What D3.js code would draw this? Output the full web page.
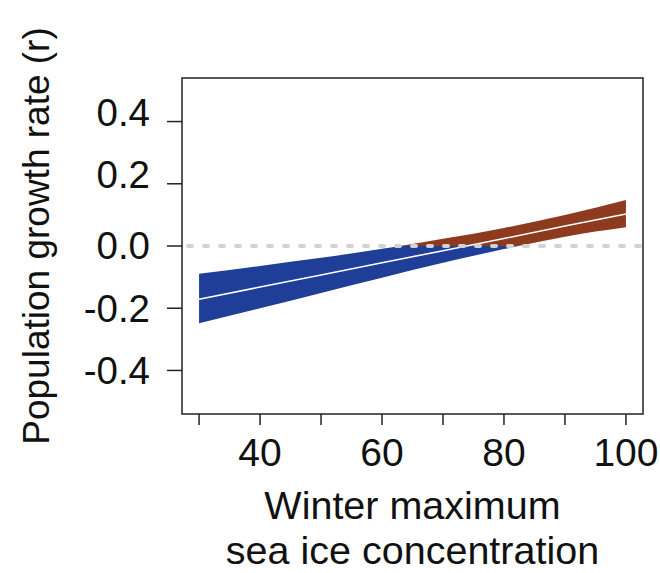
<!DOCTYPE html>
<html>
<head>
<meta charset="utf-8">
<script src="https://cdn.jsdelivr.net/npm/d3@7"></script>
<style>
    body { margin: 0; background: #fff; }
    #chart-container { width: 660px; height: 573px; }
    text { font-family: "Liberation Sans", Arial, sans-serif; fill: #111; }
</style>
</head>
<body>
<div id="chart-container"></div>
<script>
//data
var iceValues = [30, 40, 50, 60, 70, 80, 90, 100],
    growthMean = [-0.171, -0.132, -0.093, -0.054, -0.015, 0.024, 0.064, 0.103],
    growthUpper = [-0.089, -0.064, -0.038, -0.009, 0.023, 0.058, 0.100, 0.148],
    growthLower = [-0.248, -0.200, -0.151, -0.102, -0.054, -0.010, 0.030, 0.060];

var xTicks = [30, 40, 50, 60, 70, 80, 90, 100],
    xTickLabels = [40, 60, 80, 100],
    yTicks = [-0.4, -0.2, 0.0, 0.2, 0.4];

var xTitle = ['Winter maximum', 'sea ice concentration'],
    yTitle = 'Population growth rate (r)';

//containers
var container = d3.select('#chart-container'),
    svg,
    g;

//sizes
var outerW = 660,
    outerH = 573,
    margin = {left: 182, right: 17, top: 78, bottom: 159},
    w = outerW - margin.left - margin.right,
    h = outerH - margin.top - margin.bottom;

//scales
var xScale, yScale;

var blue = '#1f3e97',
    rust = '#8d3a1f';

function buildChart() {
    svg = container.append('svg')
        .attr('width', outerW)
        .attr('height', outerH);

    g = svg.append('g')
        .attr('transform', 'translate(' + margin.left + ', ' + margin.top + ')');

    var rows = iceValues.map(function(d, i) {
        return {x: d, mean: growthMean[i], lo: growthLower[i], hi: growthUpper[i]};
    });

    //clip below / above zero
    var defs = svg.append('defs');
    defs.append('clipPath').attr('id', 'clip-neg')
        .append('rect')
        .attr('x', 0).attr('y', yScale(0))
        .attr('width', w).attr('height', h - yScale(0));
    defs.append('clipPath').attr('id', 'clip-pos')
        .append('rect')
        .attr('x', 0).attr('y', 0)
        .attr('width', w).attr('height', yScale(0));

    var band = d3.area()
        .curve(d3.curveMonotoneX)
        .x(function(d) { return xScale(d.x); })
        .y0(function(d) { return yScale(d.lo); })
        .y1(function(d) { return yScale(d.hi); });

    g.append('path')
        .datum(rows)
        .attr('clip-path', 'url(#clip-neg)')
        .attr('fill', blue)
        .attr('d', band);

    g.append('path')
        .datum(rows)
        .attr('clip-path', 'url(#clip-pos)')
        .attr('fill', rust)
        .attr('d', band);

    var meanLine = d3.line()
        .x(function(d) { return xScale(d.x); })
        .y(function(d) { return yScale(d.mean); });

    g.append('path')
        .datum(rows)
        .attr('fill', 'none')
        .attr('stroke', '#fff')
        .attr('stroke-width', 1.6)
        .attr('d', meanLine);

    //zero reference line
    g.append('line')
        .attr('x1', 6)
        .attr('x2', w - 2)
        .attr('y1', yScale(0))
        .attr('y2', yScale(0))
        .attr('stroke', '#d2d2d2')
        .attr('stroke-width', 4)
        .attr('stroke-linecap', 'round')
        .attr('stroke-dasharray', '4 12');

    //box
    g.append('rect')
        .attr('x', 0)
        .attr('y', 0)
        .attr('width', w)
        .attr('height', h)
        .attr('fill', 'none')
        .attr('stroke', '#222')
        .attr('stroke-width', 1.5);

    //x axis
    var xAxisG = g.append('g')
        .attr('transform', 'translate(0,' + h + ')');

    xAxisG.selectAll('.x-tick')
        .data(xTicks)
        .enter()
        .append('line')
        .attr('class', 'x-tick')
        .attr('x1', function(d) { return xScale(d); })
        .attr('x2', function(d) { return xScale(d); })
        .attr('y1', 0)
        .attr('y2', 11)
        .attr('stroke', '#222')
        .attr('stroke-width', 1.5);

    xAxisG.selectAll('.x-label')
        .data(xTickLabels)
        .enter()
        .append('text')
        .attr('class', 'x-label')
        .attr('x', function(d) { return xScale(d); })
        .attr('y', 52)
        .attr('text-anchor', 'middle')
        .style('font-size', '39px')
        .text(function(d) { return d; });

    //y axis
    var yAxisG = g.append('g');

    yAxisG.selectAll('.y-tick')
        .data(yTicks)
        .enter()
        .append('line')
        .attr('class', 'y-tick')
        .attr('x1', -15)
        .attr('x2', 0)
        .attr('y1', function(d) { return yScale(d); })
        .attr('y2', function(d) { return yScale(d); })
        .attr('stroke', '#222')
        .attr('stroke-width', 1.5);

    yAxisG.selectAll('.y-label')
        .data(yTicks)
        .enter()
        .append('text')
        .attr('class', 'y-label')
        .attr('x', -32)
        // positive labels sit a little above their ticks in the original
        .attr('y', function(d) { return yScale(d) + (d > 0 ? -9 : 0); })
        .attr('dy', '0.35em')
        .attr('text-anchor', 'end')
        .style('font-size', '38.5px')
        .text(function(d) { return d.toFixed(1); });

    //titles
    svg.selectAll('.x-title')
        .data(xTitle)
        .enter()
        .append('text')
        .attr('class', 'x-title')
        .attr('x', margin.left + w / 2)
        .attr('y', function(d, i) { return 519 + i * 45; })
        .attr('text-anchor', 'middle')
        .style('font-size', '39.5px')
        .text(function(d) { return d; });

    svg.append('text')
        .attr('transform', 'translate(49,' + 236 + ') rotate(-90)')
        .attr('text-anchor', 'middle')
        .style('font-size', '37px')
        .text(yTitle);
}

function setupChart() {
    xScale = d3.scaleLinear().range([0, w]).domain([27.2, 102.8]);
    yScale = d3.scaleLinear().range([h, 0]).domain([-0.54, 0.54]);

    buildChart();
}

setupChart();
</script>
</body>
</html>
